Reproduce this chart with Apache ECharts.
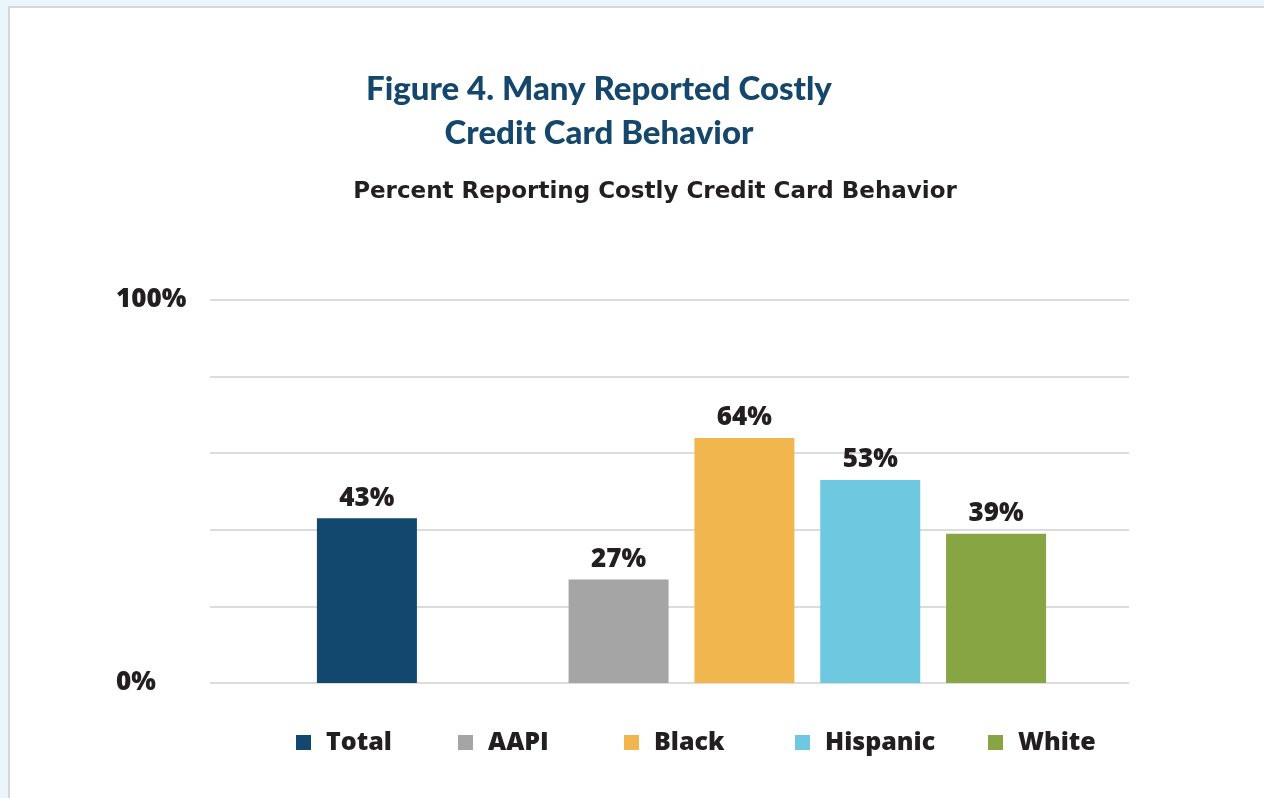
<!DOCTYPE html>
<html>
<head>
<meta charset="utf-8">
<title>Figure 4</title>
<script src="https://cdn.jsdelivr.net/npm/echarts@6/dist/echarts.min.js"></script>
<style>
  html, body { margin: 0; padding: 0; background: #eaf6fc; }
  #chart { width: 1264px; height: 798px; }
</style>
</head>
<body>
<div id="chart"></div>
<script>
// data
var groups = ['Total', 'AAPI', 'Black', 'Hispanic', 'White'];
var values = [43, 27, 64, 53, 39];
var colors = ['#12486d', '#a5a5a5', '#f2b64f', '#6ec8e0', '#87a643'];
// axis slots: an empty slot sits between Total and the groups
var slots = ['Total', ' ', 'AAPI', 'Black', 'Hispanic', 'White'];
var yTicks = [0, 100];

var textColor = '#231f20';
var titleFont = 'Lato';
var font = 'Open Sans';
// left edge of each legend entry
var legendLeft = [291, 453, 619, 790, 983];

var chart = echarts.init(document.getElementById('chart'));

var series = groups.map(function (g, i) {
  var data = slots.map(function (s) { return s === g ? values[i] : '-'; });
  return {
    name: g,
    type: 'bar',
    xAxisIndex: 1,
    yAxisIndex: 1,
    barWidth: 100,
    barGap: '-100%',
    itemStyle: { color: colors[i] },
    label: {
      show: true,
      position: 'top',
      distance: 7,
      formatter: '{c}%',
      color: textColor,
      fontFamily: font,
      fontWeight: 800,
      fontSize: 26
    },
    data: data
  };
});

var legends = groups.map(function (g, i) {
  return {
    data: [g],
    left: legendLeft[i],
    top: 725,
    itemWidth: 15,
    itemHeight: 15,
    icon: 'rect',
    textStyle: {
      color: textColor,
      fontFamily: font,
      fontWeight: 800,
      fontSize: 25,
      padding: [0, 0, 0, 10]
    }
  };
});

chart.setOption({
  backgroundColor: '#eaf6fc',
  animation: false,
  graphic: [{
    type: 'rect',
    z: -10,
    shape: { x: 9, y: 7, width: 1400, height: 900 },
    style: { fill: '#ffffff', stroke: '#d6d6d6', lineWidth: 2 }
  }],
  title: [{
    text: 'Figure 4. Many Reported Costly\nCredit Card Behavior',
    left: 594,
    top: 62,
    textAlign: 'center',
    textStyle: {
      color: '#15476c',
      fontFamily: titleFont,
      fontWeight: 900,
      fontSize: 33,
      lineHeight: 44
    }
  }, {
    text: 'Percent Reporting Costly Credit Card Behavior',
    left: 650,
    top: 176,
    textAlign: 'center',
    textStyle: {
      color: textColor,
      fontFamily: 'DejaVu Sans',
      fontWeight: 'bold',
      fontSize: 23
    }
  }],
  legend: legends,
  grid: [
    { left: 210, right: 135, top: 300, bottom: 115 },
    { left: 304, right: 205, top: 300, bottom: 115 }
  ],
  xAxis: [
    { type: 'category', gridIndex: 0, data: slots, show: false },
    {
      type: 'category', gridIndex: 1, data: slots,
      axisLine: { show: false }, axisTick: { show: false }, axisLabel: { show: false }
    }
  ],
  yAxis: [{
    type: 'value',
    gridIndex: 0,
    min: 0,
    max: 100,
    interval: 20,
    axisLine: { show: false },
    axisTick: { show: false },
    splitLine: { lineStyle: { color: '#dcdcdc', width: 2 } },
    axisLabel: {
      margin: 94,
      align: 'left',
      color: textColor,
      fontFamily: font,
      fontWeight: 800,
      fontSize: 26,
      formatter: function (v) { return yTicks.indexOf(v) >= 0 ? v + '%' : ''; }
    }
  }, {
    type: 'value',
    gridIndex: 1,
    min: 0,
    max: 100,
    interval: 20,
    show: false,
    splitLine: { show: false }
  }],
  series: series
});
</script>
</body>
</html>
